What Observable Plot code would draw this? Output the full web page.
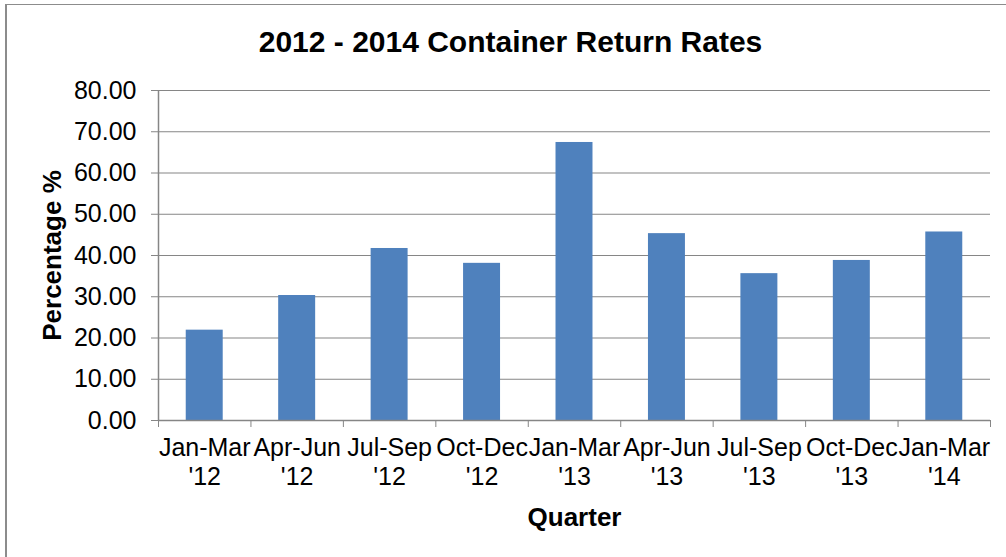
<!DOCTYPE html>
<html>
<head>
<meta charset="utf-8">
<script src="https://cdn.jsdelivr.net/npm/d3@7"></script>
<script src="https://cdn.jsdelivr.net/npm/@observablehq/plot@0.6"></script>
<style>
  html, body { margin: 0; padding: 0; background: #fff; overflow: hidden; }
  #wrap { position: relative; width: 1006px; height: 557px; }
  #frame { position: absolute; left: 5px; top: 4px; width: 1010px; height: 560px;
           border-left: 2px solid #8c8c8c; border-top: 1.5px solid #8c8c8c; box-sizing: border-box; }
  #chart { position: absolute; left: 0; top: 0; }
</style>
</head>
<body>
<div id="wrap"><div id="frame"></div><div id="chart"></div></div>
<script>
const quarters = ["Jan-Mar '12", "Apr-Jun '12", "Jul-Sep '12", "Oct-Dec '12", "Jan-Mar '13", "Apr-Jun '13", "Jul-Sep '13", "Oct-Dec '13", "Jan-Mar '14"];
const rates = [21.9, 30.3, 41.7, 38.1, 67.4, 45.3, 35.6, 38.8, 45.7];
const yTicks = [0, 10, 20, 30, 40, 50, 60, 70, 80];
const titleText = "2012 - 2014 Container Return Rates";
const yTitle = "Percentage %";
const xTitle = "Quarter";

const data = quarters.map((q, i) => ({q, i, rate: rates[i]}));
const gray = "#868686";
const boundaries = d3.range(quarters.length + 1);
const centers = d3.range(quarters.length).map(i => i + 0.5);

const chart = Plot.plot({
  width: 1006,
  height: 557,
  marginTop: 90,
  marginBottom: 137,
  marginLeft: 158,
  marginRight: 16,
  style: {fontFamily: "'Liberation Sans', Arial, sans-serif", fontSize: "25px", color: "black", background: "transparent"},
  x: {type: "linear", domain: [0, quarters.length], axis: null},
  y: {domain: [0, 80], axis: null},
  marks: [
    Plot.gridY(yTicks, {stroke: gray, strokeOpacity: 1, strokeWidth: 1.2}),
    Plot.rectY(data, {x1: d => d.i + 0.3, x2: d => d.i + 0.7, y: "rate", fill: "#4F81BD"}),
    Plot.ruleX([0], {stroke: gray, strokeWidth: 1.5}),
    Plot.ruleY([0], {stroke: gray, strokeWidth: 1.5}),
    Plot.axisY({ticks: yTicks, tickFormat: d3.format(".2f"), tickSize: 7, tickPadding: 15,
                stroke: gray, fill: "black", fontSize: 25, label: null}),
    Plot.axisX({ticks: boundaries, tickFormat: () => "", tickSize: 7, stroke: gray, label: null}),
    Plot.axisX({ticks: centers, tickFormat: t => quarters[Math.floor(t)].replace(" ", "\n"),
                tickSize: 0, tickPadding: 15, lineHeight: 1.15, fill: "black", fontSize: 25, label: null}),
    Plot.text([titleText], {frameAnchor: "top", dx: -64, dy: -48, lineAnchor: "middle",
                fontSize: 30, fontWeight: "bold", fill: "black"}),
    Plot.text([yTitle], {frameAnchor: "left", dx: -106, rotate: -90, lineAnchor: "middle", textAnchor: "middle",
                fontSize: 26, fontWeight: "bold", fill: "black"}),
    Plot.text([xTitle], {frameAnchor: "bottom", dy: 97, lineAnchor: "middle",
                fontSize: 26, fontWeight: "bold", fill: "black"})
  ]
});
document.getElementById("chart").appendChild(chart);
</script>
</body>
</html>
